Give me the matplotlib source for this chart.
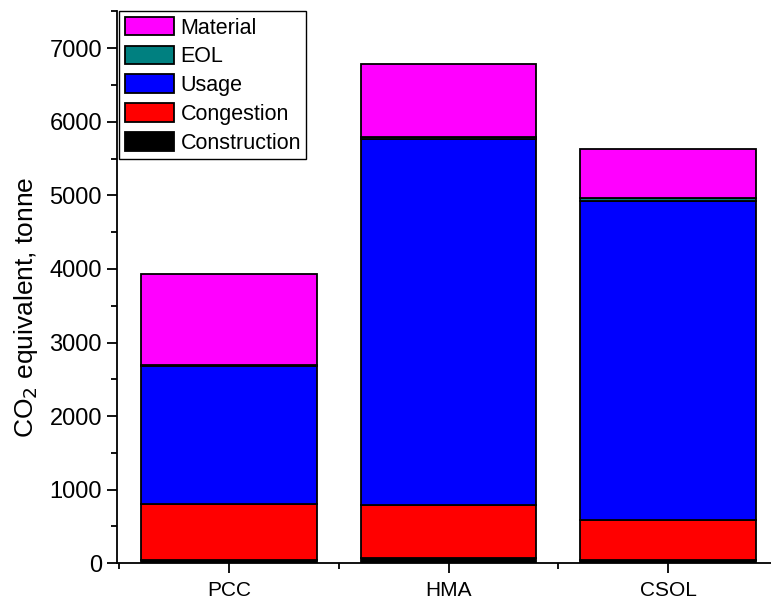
import numpy as np
import matplotlib
matplotlib.use('Agg')
import matplotlib.pyplot as plt
from matplotlib.ticker import MultipleLocator, FixedLocator

plt.rcParams['font.family'] = ['Liberation Sans', 'DejaVu Sans']

categories = ['PCC', 'HMA', 'CSOL']
construction = [50, 70, 40]
congestion = [757, 723, 553]
usage = [1877, 4969, 4337]
eol = [15, 27, 35]
material = [1229, 993, 665]

series = [('Construction', construction, '#000000'),
          ('Congestion', congestion, '#FF0000'),
          ('Usage', usage, '#0000FF'),
          ('EOL', eol, '#008080'),
          ('Material', material, '#FF00FF')]

fig = plt.figure(figsize=(7.71, 6.03), dpi=100)
ax = fig.add_axes([0.152, 0.066, 0.848, 0.915])

x = np.arange(len(categories))
bottom = np.zeros(len(categories))
handles = []
for name, vals, col in series:
    b = ax.bar(x, vals, 0.8, bottom=bottom, color=col, edgecolor='black',
               linewidth=1.3, label=name)
    handles.append(b)
    bottom += np.array(vals)

ax.set_xlim(-0.509, 2.468)
ax.set_ylim(0, 7500)
ax.set_xticks(x)
ax.set_xticklabels(categories)
ax.xaxis.set_minor_locator(FixedLocator([-0.5, 0.5, 1.5]))
ax.yaxis.set_major_locator(MultipleLocator(1000))
ax.yaxis.set_minor_locator(MultipleLocator(500))

for s in ['top', 'right']:
    ax.spines[s].set_visible(False)
for s in ['left', 'bottom']:
    ax.spines[s].set_linewidth(1.3)

ax.tick_params(axis='both', which='major', direction='out', length=7, width=1.3)
ax.tick_params(axis='y', labelsize=17, pad=4)
ax.tick_params(axis='x', labelsize=15, pad=6)
ax.tick_params(axis='both', which='minor', direction='out', length=4, width=1.3)

ax.set_ylabel('CO$_2$ equivalent, tonne', fontsize=19)
ax.yaxis.set_label_coords(-0.118, 0.463)

leg = ax.legend(handles[::-1], [s[0] for s in series][::-1], loc='upper left',
                bbox_to_anchor=(0.003, 1.0), borderaxespad=0, fontsize=15.5,
                fancybox=False, framealpha=1, edgecolor='black',
                handlelength=2.3, handleheight=0.95, labelspacing=0.33,
                handletextpad=0.3, borderpad=0.25)
leg.get_frame().set_linewidth(1.0)

fig.savefig('out.png', dpi=100)
